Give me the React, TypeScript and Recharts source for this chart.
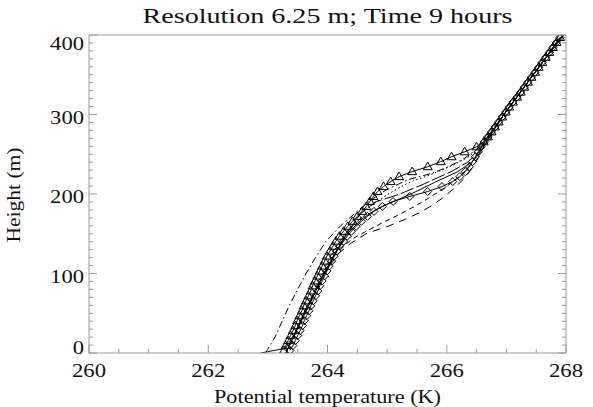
import React from "react"
import { LineChart, Line, XAxis, YAxis, Label } from "recharts"

// model levels (m) for the two marker series
const levels = [
  3.125, 9.375, 15.625, 21.875, 28.125, 34.375, 40.625, 46.875, 53.125, 59.375,
  65.625, 71.875, 78.125, 84.375, 90.625, 96.875, 103.125, 109.375, 115.625, 121.875,
  128.125, 134.375, 140.625, 146.875, 153.125, 159.375, 165.625, 171.875, 178.125, 184.375,
  190.625, 196.875, 203.125, 209.375, 215.625, 221.875, 228.125, 234.375, 240.625, 246.875,
  253.125, 259.375, 265.625, 271.875, 278.125, 284.375, 290.625, 296.875, 303.125, 309.375,
  315.625, 321.875, 328.125, 334.375, 340.625, 346.875, 353.125, 359.375, 365.625, 371.875,
  378.125, 384.375, 390.625, 396.875,
]

const triangleTemps = [
  263.27, 263.3, 263.34, 263.38, 263.42, 263.46, 263.49, 263.53, 263.57, 263.6,
  263.64, 263.68, 263.72, 263.75, 263.79, 263.83, 263.87, 263.91, 263.95, 263.99,
  264.04, 264.09, 264.14, 264.2, 264.27, 264.34, 264.42, 264.5, 264.58, 264.65,
  264.71, 264.77, 264.84, 264.94, 265.06, 265.2, 265.42, 265.68, 265.9, 266.08,
  266.3, 266.5, 266.62, 266.69, 266.75, 266.81, 266.87, 266.93, 266.99, 267.05,
  267.11, 267.18, 267.24, 267.3, 267.36, 267.42, 267.48, 267.54, 267.6, 267.66,
  267.72, 267.78, 267.84, 267.9,
]

const diamondTemps = [
  263.37, 263.42, 263.46, 263.5, 263.54, 263.58, 263.61, 263.65, 263.69, 263.72,
  263.76, 263.8, 263.84, 263.87, 263.91, 263.95, 263.99, 264.03, 264.07, 264.11,
  264.16, 264.21, 264.27, 264.33, 264.4, 264.48, 264.57, 264.67, 264.78, 264.92,
  265.1, 265.38, 265.68, 265.92, 266.1, 266.22, 266.31, 266.38, 266.43, 266.48,
  266.53, 266.58, 266.63, 266.69, 266.75, 266.81, 266.87, 266.93, 266.99, 267.05,
  267.11, 267.18, 267.24, 267.3, 267.36, 267.42, 267.48, 267.54, 267.6, 267.66,
  267.72, 267.78, 267.84, 267.9,
]

const solidHeights = [0, 6, 25, 50, 75, 100, 125, 150, 170, 182, 189, 200, 214, 228, 240, 252, 262, 297, 347, 400]
const solidTemps = [262.88, 263.3, 263.45, 263.6, 263.77, 263.94, 264.12, 264.33, 264.6, 264.85, 265.06, 265.4, 265.78, 266.18, 266.42, 266.56, 266.64, 266.93, 267.42, 267.96]

const longDashHeights = [0, 50, 100, 150, 175, 190, 199, 212, 228, 240, 254, 265, 300, 350, 400]
const longDashTemps = [263.3, 263.62, 263.94, 264.32, 264.55, 264.8, 265.18, 265.6, 266.07, 266.35, 266.55, 266.63, 266.96, 267.45, 267.95]

const dottedHeights = [0, 50, 100, 150, 170, 180, 190, 200, 210, 217, 221, 228, 236, 246, 256, 265, 300, 350, 400]
const dottedTemps = [263.3, 263.62, 263.95, 264.3, 264.5, 264.62, 264.82, 265.02, 265.25, 265.45, 265.61, 265.85, 266.1, 266.35, 266.52, 266.62, 266.96, 267.45, 267.95]

const dashedHeights = [0, 50, 100, 125, 138, 151, 159, 168, 177, 186, 196, 207, 220, 235, 250, 262, 300, 350, 400]
const dashedTemps = [263.3, 263.62, 263.95, 264.18, 264.39, 264.67, 265.0, 265.3, 265.56, 265.76, 265.95, 266.12, 266.3, 266.45, 266.56, 266.63, 266.96, 267.45, 267.95]

const dashed2Heights = [0, 50, 100, 130, 145, 156, 165, 174, 184, 195, 207, 218, 230, 242, 254, 264, 300, 350, 400]
const dashed2Temps = [263.3, 263.62, 263.95, 264.18, 264.45, 264.72, 264.95, 265.2, 265.45, 265.7, 265.95, 266.15, 266.32, 266.45, 266.56, 266.63, 266.96, 267.45, 267.95]

const dashDotHeights = [0, 20, 40, 60, 80, 100, 120, 140, 160, 175, 190, 205, 218, 226, 235, 245, 255, 265, 300, 350, 400]
const dashDotTemps = [262.96, 263.12, 263.24, 263.36, 263.5, 263.64, 263.8, 263.97, 264.22, 264.45, 264.68, 264.98, 265.35, 265.75, 266.05, 266.3, 266.48, 266.62, 266.96, 267.45, 267.94]

const xMajorTicks = [260, 262, 264, 266, 268]
const xMinorTicks = [260, 260.5, 261, 261.5, 262, 262.5, 263, 263.5, 264, 264.5, 265, 265.5, 266, 266.5, 267, 267.5, 268]
const yMajorTicks = [0, 100, 200, 300, 400]
const yMinorTicks = [
  0, 10, 20, 30, 40, 50, 60, 70, 80, 90, 100, 110, 120, 130, 140, 150, 160, 170, 180, 190, 200,
  210, 220, 230, 240, 250, 260, 270, 280, 290, 300, 310, 320, 330, 340, 350, 360, 370, 380, 390, 400,
]

const toPoints = (hs: number[], ts: number[]) => hs.map((h, i) => ({ t: ts[i], h }))

const AXIS = "#999"
const INK = "#111"
const FONT = "'Liberation Serif', 'Times New Roman', serif"

function BottomTick(props: any) {
  const { x, y, payload } = props
  const major = xMajorTicks.includes(payload.value)
  return (
    <g>
      <line x1={x} x2={x} y1={y} y2={y - (major ? 8 : 4)} stroke={AXIS} />
      {major && (
        <text x={x} y={y + 24} textAnchor="middle" fontSize={18} fontFamily={FONT} fill={INK}
          textLength={34} lengthAdjust="spacingAndGlyphs">
          {payload.value}
        </text>
      )}
    </g>
  )
}

function TopTick(props: any) {
  const { x, y, payload } = props
  const major = xMajorTicks.includes(payload.value)
  return <line x1={x} x2={x} y1={y} y2={y + (major ? 8 : 4)} stroke={AXIS} />
}

function LeftTick(props: any) {
  const { x, y, payload } = props
  const major = yMajorTicks.includes(payload.value)
  const label = String(payload.value)
  const base = Math.min(354, Math.max(50, y + 9))
  return (
    <g>
      <line x1={x} x2={x + (major ? 8 : 4)} y1={y} y2={y} stroke={AXIS} />
      {major && (
        <text x={x - 5} y={base} textAnchor="end" fontSize={18} fontFamily={FONT} fill={INK}
          textLength={label.length * 11.3} lengthAdjust="spacingAndGlyphs">
          {label}
        </text>
      )}
    </g>
  )
}

function RightTick(props: any) {
  const { x, y, payload } = props
  const major = yMajorTicks.includes(payload.value)
  return <line x1={x} x2={x - (major ? 8 : 4)} y1={y} y2={y} stroke={AXIS} />
}

const triangle = (props: any) => {
  const { cx, cy, index } = props
  if (cx == null || cy == null) return <g key={`tri-${index}`} />
  return (
    <path key={`tri-${index}`} d={`M${cx},${cy - 4.5}L${cx + 4.5},${cy + 3}L${cx - 4.5},${cy + 3}Z`}
      fill="none" stroke="#000" strokeWidth={1} />
  )
}

const diamond = (props: any) => {
  const { cx, cy, index } = props
  if (cx == null || cy == null) return <g key={`dia-${index}`} />
  return (
    <path key={`dia-${index}`} d={`M${cx},${cy - 4}L${cx + 4},${cy}L${cx},${cy + 4}L${cx - 4},${cy}Z`}
      fill="none" stroke="#000" strokeWidth={1} />
  )
}

export default function App() {
  const lineProps = {
    xAxisId: "b",
    yAxisId: "l",
    dataKey: "h",
    stroke: "#000",
    strokeWidth: 1,
    dot: false,
    activeDot: false,
    isAnimationActive: false,
    type: "linear" as const,
  }

  return (
    <div style={{ position: "absolute", left: 0, top: 0, width: 593, height: 407, background: "#fff" }}>
      <LineChart width={593} height={407} margin={{ top: 34, right: 26, bottom: 0, left: 29 }}>
        <XAxis xAxisId="top" orientation="top" type="number" domain={[260, 268]} allowDataOverflow
          ticks={xMinorTicks} interval={0} height={1} tickSize={0} tickMargin={0} tickLine={false}
          axisLine={{ stroke: AXIS }} tick={<TopTick />}>
          <Label
            content={({ viewBox }: any) => {
              const { x, width, y } = viewBox
              return (
                <text x={x + width / 2} y={y - 11} textAnchor="middle" fontSize={22} fontFamily={FONT}
                  fill={INK} textLength={370} lengthAdjust="spacingAndGlyphs">
                  Resolution 6.25 m; Time 9 hours
                </text>
              )
            }}
          />
        </XAxis>
        <XAxis xAxisId="b" dataKey="t" orientation="bottom" type="number" domain={[260, 268]} allowDataOverflow
          ticks={xMinorTicks} interval={0} height={54} tickSize={0} tickMargin={0} tickLine={false}
          axisLine={{ stroke: AXIS }} tick={<BottomTick />}>
          <Label
            content={({ viewBox }: any) => {
              const { x, width, y } = viewBox
              return (
                <text x={x + width / 2} y={y + 50} textAnchor="middle" fontSize={18} fontFamily={FONT}
                  fill={INK} textLength={227} lengthAdjust="spacingAndGlyphs">
                  Potential temperature (K)
                </text>
              )
            }}
          />
        </XAxis>
        <YAxis yAxisId="l" orientation="left" type="number" domain={[0, 400]} allowDataOverflow
          ticks={yMinorTicks} interval={0} width={60} tickSize={0} tickMargin={0} tickLine={false}
          axisLine={{ stroke: AXIS }} tick={<LeftTick />}>
          <Label
            content={() => (
              <text x={20} y={195} transform="rotate(-90 20 195)" textAnchor="middle" fontSize={18}
                fontFamily={FONT} fill={INK} textLength={95} lengthAdjust="spacingAndGlyphs">
                Height (m)
              </text>
            )}
          />
        </YAxis>
        <YAxis yAxisId="r" orientation="right" type="number" domain={[0, 400]} allowDataOverflow
          ticks={yMinorTicks} interval={0} width={1} tickSize={0} tickMargin={0} tickLine={false}
          axisLine={{ stroke: AXIS }} tick={<RightTick />} />

        <Line {...lineProps} data={toPoints(dashedHeights, dashedTemps)} strokeDasharray="8 6" />
        <Line {...lineProps} data={toPoints(dashed2Heights, dashed2Temps)} strokeDasharray="5 4" />
        <Line {...lineProps} data={toPoints(dashDotHeights, dashDotTemps)} strokeDasharray="7 3 1.5 3" />
        <Line {...lineProps} data={toPoints(dottedHeights, dottedTemps)} strokeDasharray="1.5 2.5" />
        <Line {...lineProps} data={toPoints(longDashHeights, longDashTemps)} strokeDasharray="14 3" />
        <Line {...lineProps} data={toPoints(solidHeights, solidTemps)} />
        <Line {...lineProps} data={toPoints(levels, diamondTemps)} dot={diamond} />
        <Line {...lineProps} data={toPoints(levels, triangleTemps)} dot={triangle} />
      </LineChart>
    </div>
  )
}
